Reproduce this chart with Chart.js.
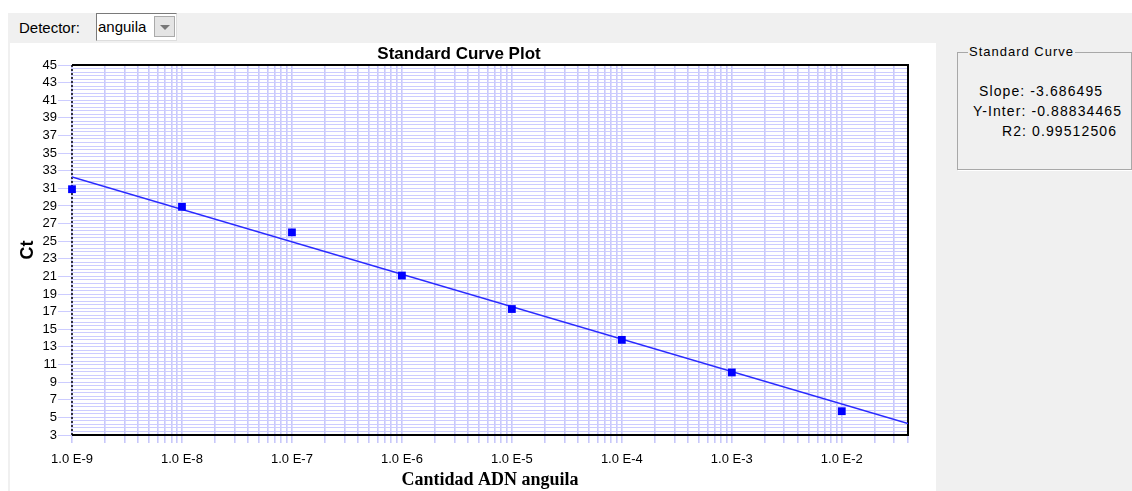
<!DOCTYPE html>
<html>
<head>
<meta charset="utf-8">
<script src="https://cdn.jsdelivr.net/npm/chart.js@4"></script>
<style>
  body { margin:0; width:1132px; height:491px; background:#fff; position:relative; overflow:hidden; font-family:"Liberation Sans", Arial, sans-serif; }
  #panel { position:absolute; left:8px; top:13px; right:0; bottom:0; background:#f0f0f0; }
  #detLabel { position:absolute; left:19px; top:19px; font-size:15px; color:#000; }
  #combo { position:absolute; left:96px; top:13px; width:79px; height:26px; background:#fff; border:1px solid #7a7a7a; border-right-color:#ddd; border-bottom-color:#ddd; }
  #combo span { position:absolute; left:1px; top:4px; font-size:15px; }
  #combo .btn { position:absolute; right:1px; top:2px; width:21px; height:21px; background:#e4e4e4; border:1px solid #aaa; box-sizing:border-box; }
  #combo .btn:after { content:''; position:absolute; left:5px; top:8px; border-left:5px solid transparent; border-right:5px solid transparent; border-top:5px solid #777; }
  #chartBox { position:absolute; left:10px; top:43px; width:926px; height:448px; background:#fff; }
  #group { position:absolute; left:957px; top:52px; width:173px; height:116px; border:1px solid #a8a8a8; box-shadow:1px 1px 0 #fff; }
  #group .cap { position:absolute; left:10px; top:-9px; background:#f0f0f0; padding:0 1px; font-size:13px; letter-spacing:1px; }
  .row { position:absolute; font-size:14px; letter-spacing:1.1px; white-space:nowrap; }
</style>
</head>
<body>
<div id="panel"></div>
<div id="detLabel">Detector:</div>
<div id="combo"><span>anguila</span><div class="btn"></div></div>
<div id="chartBox"><canvas id="stdCurve"></canvas></div>
<div id="group"><div class="cap">Standard Curve</div></div>
<div class="row" style="left:979px; top:83px;">Slope: -3.686495</div>
<div class="row" style="left:973px; top:103px;">Y-Inter: -0.88834465</div>
<div class="row" style="left:1002px; top:123px;">R2: 0.99512506</div>

<script>
// data
const concentrations = [1e-9, 1e-8, 1e-7, 1e-6, 1e-5, 1e-4, 1e-3, 1e-2];
const ctValues = [30.9, 28.9, 26.0, 21.1, 17.3, 13.8, 10.1, 5.7];
// fitted line end points
const fitX = [1e-9, 0.04];
const fitY = [32.3, 4.3];
// tick labels
const ctTickLabels = [3, 5, 7, 9, 11, 13, 15, 17, 19, 21, 23, 25, 27, 29, 31, 33, 35, 37, 39, 41, 43, 45];
const xDecades = [-9, -8, -7, -6, -5, -4, -3, -2];
const xTickLabels = ['1.0 E-9', '1.0 E-8', '1.0 E-7', '1.0 E-6', '1.0 E-5', '1.0 E-4', '1.0 E-3', '1.0 E-2'];
const minorSteps = [1, 2, 3, 4, 5, 6, 7, 8, 9];

const GRID = '#ccccff';
const SANS = '"Liberation Sans", Arial, sans-serif';

function isLabelled(v) {
  const r = Math.round(v);
  return Math.abs(v - r) < 1e-6 && ctTickLabels.indexOf(r) >= 0;
}

const frame = {
  id: 'frame',
  beforeDatasetsDraw(chart) {
    const a = chart.chartArea, c = chart.ctx;
    c.save();
    c.strokeStyle = '#000';
    c.lineWidth = 2;
    c.beginPath();
    c.moveTo(a.left, a.top); c.lineTo(a.right, a.top);
    c.lineTo(a.right, a.bottom); c.lineTo(a.left, a.bottom);
    c.stroke();
    c.lineWidth = 1.5;
    c.setLineDash([2, 2]);
    c.beginPath();
    c.moveTo(a.left, a.top); c.lineTo(a.left, a.bottom);
    c.stroke();
    c.restore();
  }
};

new Chart(document.getElementById('stdCurve'), {
  type: 'scatter',
  data: {
    datasets: [
      {
        label: 'Standards',
        data: concentrations.map((x, i) => ({ x: x, y: ctValues[i] })),
        pointStyle: 'rect', pointRadius: 5.5, pointHoverRadius: 5.5,
        backgroundColor: '#0000ff', borderColor: '#0000ff', borderWidth: 0,
        clip: false, order: 1
      },
      {
        label: 'Fit',
        type: 'line',
        data: fitX.map((x, i) => ({ x: x, y: fitY[i] })),
        borderColor: '#2a2aff', borderWidth: 1.5, pointRadius: 0, fill: false,
        order: 2
      }
    ]
  },
  options: {
    responsive: true, maintainAspectRatio: false, animation: false,
    layout: { padding: { left: 0, right: 28, top: 0, bottom: 0 } },
    plugins: {
      legend: { display: false },
      tooltip: { enabled: false },
      title: {
        display: true, text: 'Standard Curve Plot', color: '#000',
        font: { family: SANS, size: 17, weight: 'bold' },
        padding: { top: 1, bottom: 0.6 }
      }
    },
    scales: {
      x: {
        type: 'logarithmic', min: 1e-9, max: 0.04,
        border: { display: false },
        grid: { color: '#c8c8fa', tickColor: '#c8c8fa', tickLength: 8, lineWidth: 1.6 },
        afterBuildTicks: (s) => {
          const t = [];
          xDecades.concat([-1]).forEach(d => minorSteps.forEach(m => {
            const v = m * Math.pow(10, d);
            if (v >= s.min * 0.999 && v <= s.max * 1.001) t.push({ value: v });
          }));
          s.ticks = t;
        },
        ticks: {
          autoSkip: false, maxRotation: 0, padding: 9, color: '#000',
          font: { family: SANS, size: 13 },
          callback: (v) => {
            const e = Math.log10(v);
            const idx = xDecades.indexOf(Math.round(e));
            return (Math.abs(e - Math.round(e)) < 1e-6 && idx >= 0) ? xTickLabels[idx] : '';
          }
        },
        title: {
          display: true, text: 'Cantidad ADN anguila', color: '#000',
          font: { family: '"Liberation Serif", "Times New Roman", serif', size: 18, weight: 'bold' },
          padding: { top: 0, bottom: 0 }
        },
        afterFit: (s) => { s.height = 56; }
      },
      y: {
        min: 3, max: 45,
        border: { display: false },
        grid: {
          color: GRID, tickLength: 14, lineWidth: 1,
          tickColor: (ctx) => isLabelled(ctx.tick.value) ? GRID : 'rgba(0,0,0,0)'
        },
        ticks: {
          stepSize: 0.4, autoSkip: false, padding: 1, color: '#000',
          font: { family: SANS, size: 13 },
          callback: (v) => isLabelled(v) ? String(Math.round(v)) : ''
        },
        title: {
          display: true, text: 'Ct', color: '#000',
          font: { family: SANS, size: 18, weight: 'bold' },
          padding: { top: 7, bottom: 0 }
        },
        afterFit: (s) => { s.width = 62; }
      }
    }
  },
  plugins: [frame]
});
</script>
</body>
</html>
